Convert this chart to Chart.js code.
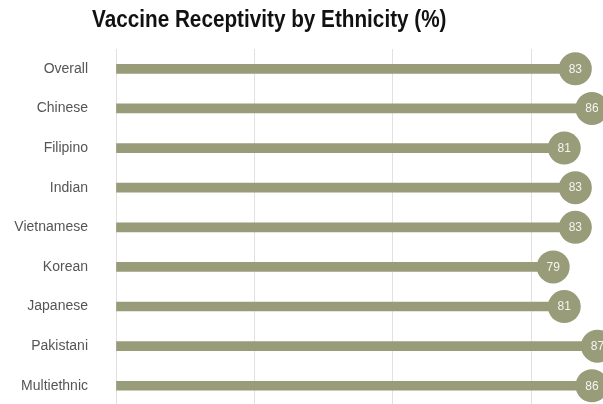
<!DOCTYPE html>
<html>
<head>
<meta charset="utf-8">
<script src="https://cdn.jsdelivr.net/npm/chart.js@4.4.1/dist/chart.umd.min.js"></script>
<style>
  html, body { margin: 0; padding: 0; background: #fff; overflow: hidden; width: 603px; height: 404px; }
  #wrap { position: relative; width: 603px; height: 404px; overflow: hidden; }
  #wrap canvas { position: absolute; left: 0; top: 0; }
  #title {
    position: absolute; left: 92px; top: 7px; margin: 0;
    font: bold 24px/24px "Liberation Sans", Arial, sans-serif;
    color: #111; white-space: nowrap;
    transform: scaleX(0.863); transform-origin: 0 0;
  }
</style>
</head>
<body>
<div id="wrap">
  <!-- the plot runs slightly past the bottom edge, so the canvas is taller than the frame -->
  <canvas id="chart" width="603" height="442" style="width:603px;height:442px"></canvas>
  <h1 id="title">Vaccine Receptivity by Ethnicity (%)</h1>
</div>
<script>
// Share of respondents receptive to the vaccine, by ethnic group (%)
const categories = ['Overall', 'Chinese', 'Filipino', 'Indian', 'Vietnamese', 'Korean', 'Japanese', 'Pakistani', 'Multiethnic'];
const receptivity = [83, 86, 81, 83, 83, 79, 81, 87, 86];

// Vertical guide lines along the value axis
const gridStep = 25;
const axisMin = 0;
const axisMax = 88;

const olive = '#989c78';

// Writes each value inside its lollipop head
const valueLabels = {
  id: 'valueLabels',
  afterDatasetsDraw(chart) {
    const meta = chart.getDatasetMeta(1);
    const ctx = chart.ctx;
    ctx.save();
    ctx.font = '12px "Liberation Sans", Arial, sans-serif';
    ctx.fillStyle = '#f5f5f0';
    ctx.textAlign = 'center';
    ctx.textBaseline = 'middle';
    meta.data.forEach((pt, i) => {
      ctx.fillText(String(receptivity[i]), pt.x, pt.y + 0.5);
    });
    ctx.restore();
  }
};

new Chart(document.getElementById('chart'), {
  type: 'bar',
  data: {
    labels: categories,
    datasets: [
      {
        type: 'bar',
        data: receptivity,
        backgroundColor: olive,
        borderWidth: 0,
        barThickness: 9,
        order: 2
      },
      {
        type: 'line',
        indexAxis: 'y',
        data: receptivity,
        showLine: false,
        pointRadius: 16.5,
        pointHoverRadius: 16.5,
        pointBackgroundColor: olive,
        pointBorderWidth: 0,
        clip: false,
        order: 1
      }
    ]
  },
  options: {
    indexAxis: 'y',
    responsive: false,
    animation: false,
    events: [],
    layout: { autoPadding: false, padding: { top: 49, right: 0, bottom: 0, left: 0 } },
    plugins: {
      legend: { display: false },
      tooltip: { enabled: false },
      title: { display: false }
    },
    scales: {
      x: {
        type: 'linear',
        min: axisMin,
        max: axisMax,
        afterFit(scale) { scale.height = 0; },
        ticks: { display: false, stepSize: gridStep, includeBounds: false },
        grid: { color: '#e1e1e1', lineWidth: 1, drawTicks: false },
        border: { display: false }
      },
      y: {
        type: 'category',
        offset: true,
        afterFit(scale) { scale.width = 116; },
        ticks: {
          padding: 28,
          color: '#555555',
          font: { family: '"Liberation Sans", Arial, sans-serif', size: 14 }
        },
        grid: { display: false, drawTicks: false },
        border: { display: false }
      }
    }
  },
  plugins: [valueLabels]
});
</script>
</body>
</html>
